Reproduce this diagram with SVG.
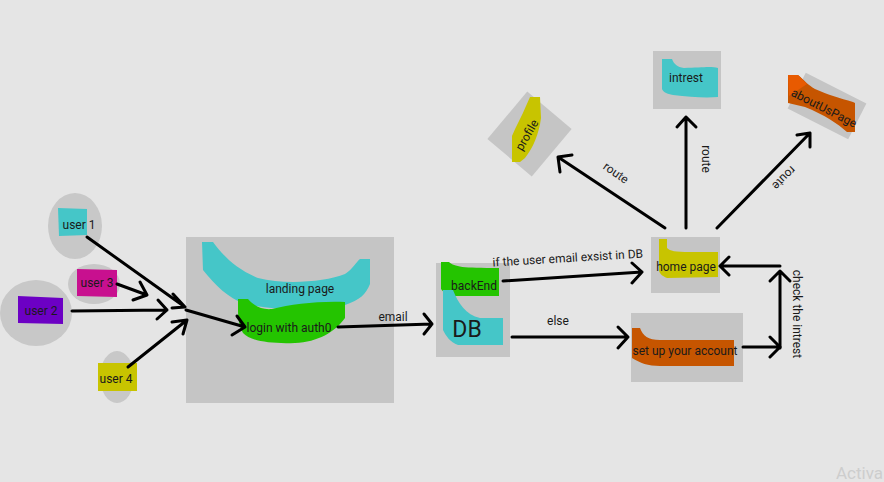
<svg xmlns="http://www.w3.org/2000/svg" width="884" height="482" viewBox="0 0 884 482">
<style>
text{font-family:Roboto,"Liberation Sans",sans-serif;font-size:12px;fill:#1a1a1a;text-anchor:middle}
.box{fill:#c5c5c5}
.oval{fill:#c8c8c8}
.ln{fill:none;stroke:#000;stroke-width:3;stroke-linecap:round;stroke-linejoin:round}
.cy{fill:#45c6c8}.gr{fill:#24c400}.ye{fill:#c8c400}.or{fill:#c65500}
</style>
<rect width="884" height="482" fill="#e5e5e5"/>

<g id="user1">
<ellipse class="oval" cx="75" cy="226" rx="27" ry="33"/>
<path fill="#45c6c8" d="M58,208 L87,209 L87,235 L59,236 Z"/>
<text x="79" y="229">user 1</text>
</g>
<g id="user3">
<ellipse class="oval" cx="94" cy="284" rx="26" ry="20"/>
<path fill="#c8108f" d="M77,269 L117,270 L117,297 L77,296 Z"/>
<text x="97" y="287">user 3</text>
</g>
<g id="user2">
<ellipse class="oval" cx="36" cy="313" rx="36" ry="33"/>
<path fill="#6c00c4" d="M18,296 L63,298 L63,324 L18,323 Z"/>
<text x="41" y="315">user 2</text>
</g>
<g id="user4">
<ellipse class="oval" cx="117" cy="377" rx="17" ry="26"/>
<rect fill="#c8c400" x="98" y="363" width="39" height="28"/>
<text x="116" y="383">user 4</text>
</g>

<g id="landing">
<rect class="box" x="186" y="237" width="208" height="166"/>
<path class="cy" d="M202,242 L213,242 C222,254 234,268 258,278 C285,285 325,282 345,274 C353,269 356,262 360,259 L370,259 L370,284 C366,294 360,300 345,305 C320,311 275,311 245,304 C228,298 215,285 203,270 Z"/>
<text x="300" y="293">landing page</text>
<path class="gr" d="M238,299 L248,299 C254,306 262,310 272,309 C292,304 318,301 345,302 L345,318 C335,332 318,342 295,343 C270,344 250,341 243,333 C239,326 238,318 238,310 Z"/>
<text x="289" y="332">login with auth0</text>
</g>

<g id="db">
<rect class="box" x="436" y="263" width="74" height="94"/>
<path class="gr" d="M441,262 L449,262 C455,267 462,268 499,268 L499,296 L455,296 C447,295 443,292 441,289 Z"/>
<text x="474" y="290">backEnd</text>
<path class="cy" d="M443,290 L453,290 C458,303 466,315 480,318 L503,318 L503,345 L458,345 C450,342 446,336 443,330 Z"/>
<text x="467" y="337" style="font-size:23px">DB</text>
</g>

<g id="home">
<rect class="box" x="651" y="237" width="69" height="56"/>
<path class="ye" d="M659,239 L667,239 L667,248 C670,251 675,252 690,252 L718,252 L718,277 L667,278 C662,276 659,273 659,270 Z"/>
<text x="686" y="271">home page</text>
</g>

<g id="setup">
<rect class="box" x="631" y="313" width="112" height="69"/>
<path class="or" d="M632,328 L640,328 C643,336 648,340 660,340 L734,340 L734,366 L660,366 C648,366 640,363 632,358 Z"/>
<text x="685" y="355">set up your account</text>
</g>

<g id="intrest">
<rect class="box" x="653" y="51" width="68" height="58"/>
<path class="cy" d="M662,59 L672,59 C674,64 677,67 684,68 C700,68 710,66 718,68 L718,97 C705,98 690,97 673,95 C667,94 663,92 662,89 Z"/>
<text x="686" y="82">intrest</text>
</g>

<g id="profile">
<rect class="box" x="-31" y="-29" width="62" height="58" transform="translate(529.5,134) rotate(-50)"/>
<path class="ye" d="M530,97 L540,97 L541,118 C539,134 533,148 525,158 L520,162 L512,162 L512,136 C516,126 522,116 526,106 Z"/>
<text transform="translate(527,135) rotate(-60)" y="4">profile</text>
</g>

<g id="aboutUsPage">
<rect class="box" x="-34" y="-20" width="68" height="40" transform="translate(827,106) rotate(27)"/>
<path class="or" d="M788,75 L798,75 C804,80 808,85 815,89 C828,95 840,98 853,102 L855,103 L855,132 L847,132 C838,124 825,115 805,107 L788,103 Z"/>
<path fill="#e85a00" d="M788,75 L798,75 C802,79 805,82 807,84 L789,96 Z"/>
<text transform="translate(824,108) rotate(27)" y="4">aboutUsPage</text>
</g>

<g id="connectors">
<path class="ln" d="M87,237 L185,307 M173,294 L185,307 L172,308"/>
<path class="ln" d="M117,284 L147,295 M140,282 L147,295 L133,300"/>
<path class="ln" d="M72,311 L167,310 M158,300 L167,310 L157,319"/>
<path class="ln" d="M128,367 L187,320 M172,322 L187,320 L183,334"/>
<path class="ln" d="M186,310 L245,327 M237,316 L245,327 L232,335"/>
<path class="ln" d="M338,327 L432,324 M424,314 L432,324 L424,334"/>
<path class="ln" d="M503,281 L642,272 M632,263 L642,272 L632,283"/>
<path class="ln" d="M512,337 L628,337 M618,327 L628,337 L618,348"/>
<path class="ln" d="M743,347 L780,347 M770,337 L780,347 L770,357"/>
<path class="ln" d="M780,348 L780,271 M770,281 L780,271 L790,281"/>
<path class="ln" d="M780,266 L720,266 M729,257 L720,266 L729,275"/>
<path class="ln" d="M665,228 L558,157 M560,172 L558,157 L572,155"/>
<path class="ln" d="M686,228 L686,117 M677,127 L686,117 L696,127"/>
<path class="ln" d="M717,228 L810,133 M797,135 L810,133 L810,147"/>
<text x="393" y="321">email</text>
<text transform="translate(568,262) rotate(-3.4)">if the user email exsist in DB</text>
<text x="558" y="325">else</text>
<text transform="translate(797,314) rotate(90)" y="4">check the intrest</text>
<text transform="translate(616,173) rotate(35)" y="4">route</text>
<text transform="translate(706,159) rotate(90)" y="4">route</text>
<text transform="translate(784,178) rotate(135)" y="4">route</text>
</g>

<text x="883" y="479" style="font-size:17px;fill:#cdcdcd;text-anchor:end">Activa</text>
</svg>
